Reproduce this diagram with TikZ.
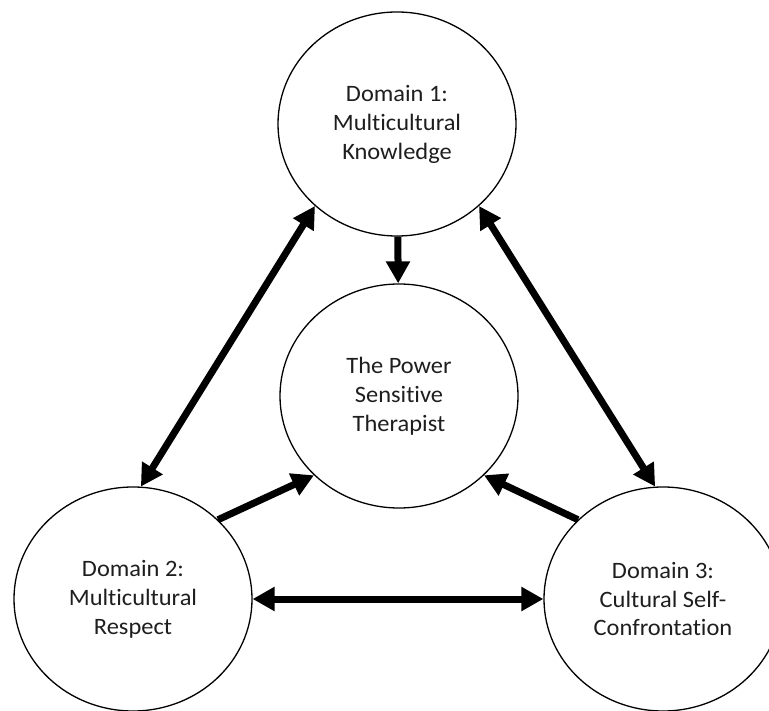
\documentclass[tikz,border=0pt]{standalone}
\usepackage{fontspec}
\setmainfont{Carlito}[FakeStretch=1.04, Ligatures=NoCommon]
\usetikzlibrary{arrows.meta, shapes.geometric}
\definecolor{txtg}{RGB}{30,30,30}

\begin{document}
\begin{tikzpicture}[x=1pt, y=-1pt,
            dn/.style={ellipse, draw, line width=1.3pt, minimum width=238pt,
              minimum height=224pt, inner sep=0pt, align=center, text=txtg,
              font=\fontsize{23.5}{29}\selectfont},
            ->/.style={-{Triangle[length=22pt, width=23pt]}, line width=7pt},
            <->/.style={{Triangle[length=22pt, width=23pt]}-{Triangle[length=22pt, width=23pt]},
              line width=7pt}]
          \useasboundingbox (0,0) rectangle (769,711);
          \node[dn] (d1) at (397,124) {Domain 1:\\Multicultural\\Knowledge};
          \node[dn] (pst) at (399,396) {The Power\\Sensitive\\Therapist};
          \node[dn] (d2) at (133,599) {Domain 2:\\Multicultural\\Respect};
          \node[dn] (d3) at (663,599) {Domain 3:\\Cultural Self-\\Confrontation};
          \draw [->] (d1) to (pst);
          \draw [<->] (d2.86) to (d1.225);
          \draw [<->] (d3.94) to (d1.315);
          \draw [->] (d2.43) to (pst.223);
          \draw [->] (d3.137) to (pst.317);
          \draw [<->] (d2.east) to (d3.west);
        \end{tikzpicture}
\end{document}
